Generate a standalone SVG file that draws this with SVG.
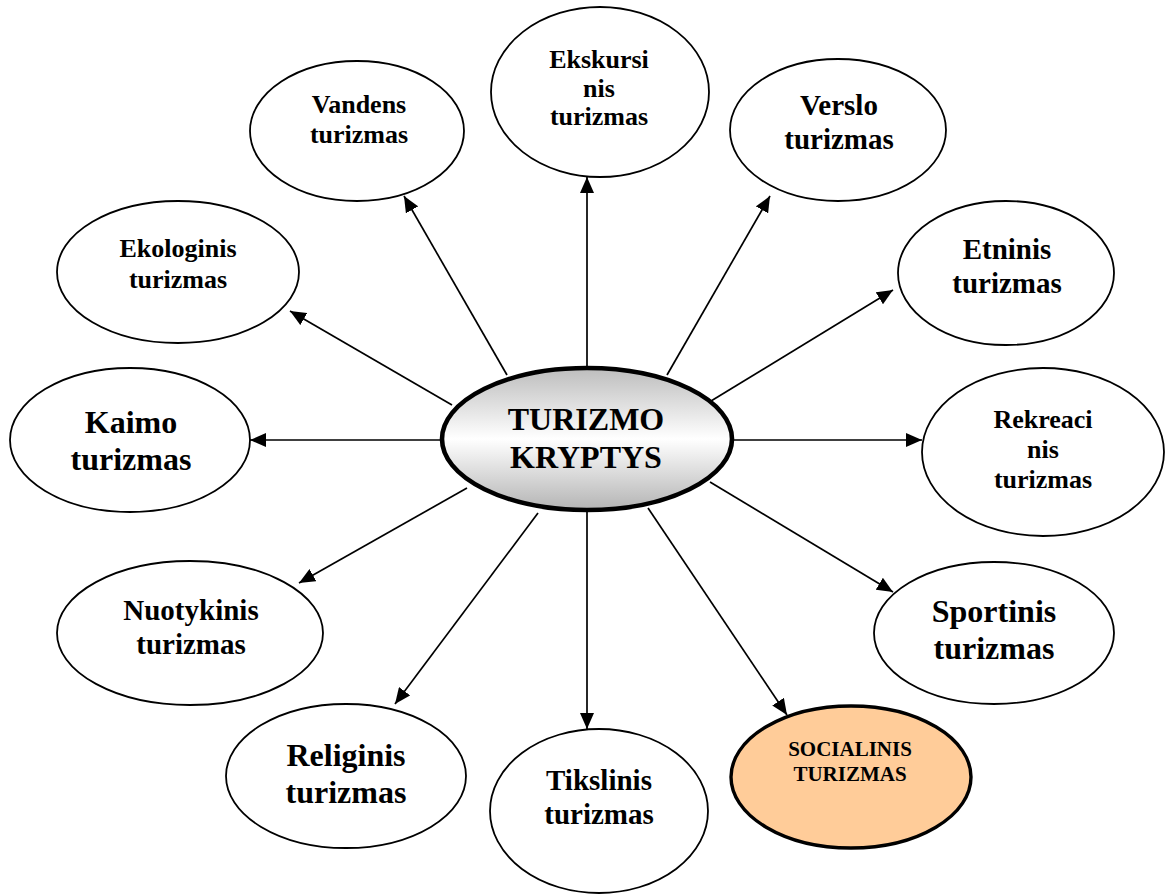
<svg xmlns="http://www.w3.org/2000/svg" width="1169" height="894" viewBox="0 0 1169 894">
<defs>
<style>
.n{fill:#ffffff;stroke:#000;stroke-width:1.8}
.t{font-family:"Liberation Serif","Times New Roman",serif;font-weight:bold;fill:#000;text-anchor:middle}
.s26{font-size:26px}.s29{font-size:29px}.s32{font-size:32px}.s21{font-size:21px}
.c{stroke:#000;stroke-width:1.7;fill:none;marker-end:url(#ah)}
</style>
<marker id="ah" markerUnits="userSpaceOnUse" markerWidth="16" markerHeight="14" refX="16" refY="7" orient="auto" viewBox="0 0 16 14">
<path d="M0,0 L16,7 L0,14 Z" fill="#000"/>
</marker>
<linearGradient id="cg" x1="0" y1="0" x2="0" y2="1">
<stop offset="0" stop-color="#bdbdbd"/>
<stop offset="0.5" stop-color="#ffffff"/>
<stop offset="1" stop-color="#b4b4b4"/>
</linearGradient>
</defs>
<rect width="1169" height="894" fill="#fff"/>

<g id="ekskursinis"><ellipse class="n" cx="600" cy="92" rx="109" ry="85"/>
<text class="t s26" x="599"><tspan x="599" y="68">Ekskursi</tspan><tspan x="599" y="97">nis</tspan><tspan x="599" y="125">turizmas</tspan></text></g>

<g id="vandens"><ellipse class="n" cx="357" cy="131" rx="107" ry="70"/>
<text class="t s26"><tspan x="359" y="113">Vandens</tspan><tspan x="359" y="143">turizmas</tspan></text></g>

<g id="verslo"><ellipse class="n" cx="838" cy="130" rx="108" ry="71"/>
<text class="t s29"><tspan x="839" y="115">Verslo</tspan><tspan x="839" y="149">turizmas</tspan></text></g>

<g id="ekologinis"><ellipse class="n" cx="178" cy="272" rx="121" ry="71"/>
<text class="t s26"><tspan x="178" y="257">Ekologinis</tspan><tspan x="178" y="288">turizmas</tspan></text></g>

<g id="etninis"><ellipse class="n" cx="1006" cy="273" rx="108" ry="72"/>
<text class="t s29"><tspan x="1007" y="259">Etninis</tspan><tspan x="1007" y="293">turizmas</tspan></text></g>

<g id="kaimo"><ellipse class="n" cx="130" cy="440" rx="120" ry="72"/>
<text class="t s32"><tspan x="131" y="433">Kaimo</tspan><tspan x="131" y="470">turizmas</tspan></text></g>

<g id="rekreacinis"><ellipse class="n" cx="1043" cy="452" rx="121" ry="84"/>
<text class="t s26"><tspan x="1043" y="428">Rekreaci</tspan><tspan x="1043" y="458">nis</tspan><tspan x="1043" y="488">turizmas</tspan></text></g>

<g id="nuotykinis"><ellipse class="n" cx="190" cy="633" rx="133" ry="72"/>
<text class="t s29"><tspan x="191" y="620">Nuotykinis</tspan><tspan x="191" y="654">turizmas</tspan></text></g>

<g id="sportinis"><ellipse class="n" cx="994" cy="633" rx="120" ry="71"/>
<text class="t s32"><tspan x="994" y="622">Sportinis</tspan><tspan x="994" y="659">turizmas</tspan></text></g>

<g id="religinis"><ellipse class="n" cx="346" cy="776" rx="120" ry="72"/>
<text class="t s32"><tspan x="346" y="766">Religinis</tspan><tspan x="346" y="803">turizmas</tspan></text></g>

<g id="tikslinis"><ellipse class="n" cx="599" cy="811" rx="109" ry="82"/>
<text class="t s29"><tspan x="599" y="790">Tikslinis</tspan><tspan x="599" y="824">turizmas</tspan></text></g>

<g id="socialinis"><ellipse cx="851" cy="777" rx="120" ry="71" fill="#ffcc99" stroke="#000" stroke-width="3.4"/>
<text class="t s21"><tspan x="850" y="756">SOCIALINIS</tspan><tspan x="850" y="781">TURIZMAS</tspan></text></g>

<g id="connectors">
<line class="c" x1="587" y1="368" x2="587" y2="177"/>
<line class="c" x1="507" y1="375" x2="404" y2="196"/>
<line class="c" x1="667" y1="375" x2="770" y2="196"/>
<line class="c" x1="711" y1="401" x2="893" y2="290"/>
<line class="c" x1="733" y1="440" x2="922" y2="440"/>
<line class="c" x1="442" y1="440" x2="250" y2="440"/>
<line class="c" x1="452" y1="405" x2="290" y2="311"/>
<line class="c" x1="467" y1="488" x2="299" y2="583"/>
<line class="c" x1="538" y1="513" x2="395" y2="704"/>
<line class="c" x1="587" y1="511" x2="587" y2="729"/>
<line class="c" x1="648" y1="508" x2="787" y2="715"/>
<line class="c" x1="710" y1="482" x2="893" y2="592"/>
</g>

<g id="center"><ellipse cx="587" cy="439" rx="145" ry="71" fill="url(#cg)" stroke="#000" stroke-width="4.6"/>
<text class="t s32"><tspan x="586" y="430">TURIZMO</tspan><tspan x="586" y="468">KRYPTYS</tspan></text></g>
</svg>
